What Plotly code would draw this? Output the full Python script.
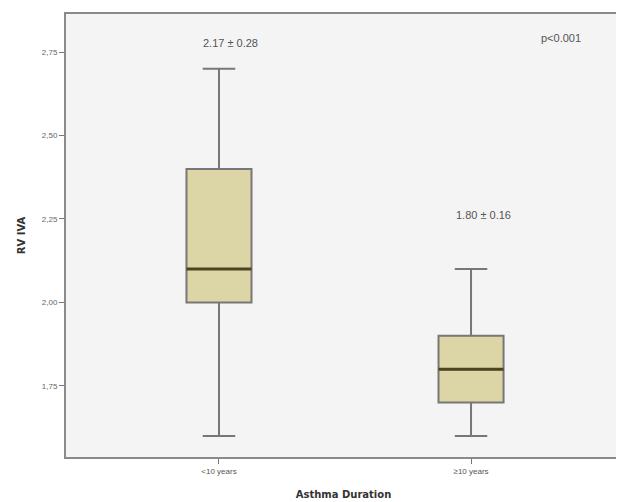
import plotly.graph_objects as go

categories = ["<10 years", "≥10 years"]
lower = [1.60, 1.60]
q1 = [2.00, 1.70]
median = [2.10, 1.80]
q3 = [2.40, 1.90]
upper = [2.70, 2.10]
labels = ["2.17 ± 0.28", "1.80 ± 0.16"]
y_ticks = [1.75, 2.00, 2.25, 2.50, 2.75]

BOX_W = 0.258
fig = go.Figure()
fig.add_trace(go.Box(
    x=categories, q1=q1, median=median, q3=q3,
    lowerfence=lower, upperfence=upper,
    width=BOX_W, whiskerwidth=0.5,
    fillcolor="#dcd5a6", line=dict(color="#777777", width=2),
    boxpoints=False, showlegend=False, hoverinfo="skip",
))

# darker median lines over the box
for i, m in enumerate(median):
    fig.add_shape(type="line", xref="x", yref="y",
                  x0=i - BOX_W / 2, x1=i + BOX_W / 2, y0=m, y1=m,
                  line=dict(color="#4f4321", width=3))

ann_font = dict(family="Liberation Sans, Arial", size=11, color="#555555")
fig.add_annotation(x=0.044, y=2.777, xref="x", yref="y", text=labels[0],
                   showarrow=False, font=ann_font)
fig.add_annotation(x=1.05, y=2.262, xref="x", yref="y", text=labels[1],
                   showarrow=False, font=ann_font)
fig.add_annotation(x=1.357, y=2.792, xref="x", yref="y", text="p<0.001",
                   showarrow=False, font=ann_font)

fig.update_layout(
    width=616, height=494,
    margin=dict(l=58, r=3, t=6, b=45),
    paper_bgcolor="white", plot_bgcolor="#f4f4f4",
    separators=",.",
    font=dict(family="Liberation Sans, Arial", size=8, color="#666666"),
    xaxis=dict(
        type="category", range=[-0.607, 1.595],
        showline=True, linecolor="#8a8a8a", linewidth=2, mirror=True,
        ticks="outside", ticklen=5, tickcolor="#777777",
        showgrid=False, zeroline=False,
        tickfont=dict(size=8, color="#555555"),
        title=dict(text="<b>Asthma Duration</b>", standoff=16,
                   font=dict(family="DejaVu Sans", size=10, color="#333333")),
    ),
    yaxis=dict(
        range=[1.537, 2.864],
        tickvals=y_ticks, tickformat=".2f",
        showline=True, linecolor="#8a8a8a", linewidth=2, mirror=False,
        ticks="outside", ticklen=5, tickcolor="#777777",
        showgrid=False, zeroline=False,
        tickfont=dict(size=8, color="#666666"),
        title=dict(text="<b>RV IVA</b>", standoff=14,
                   font=dict(family="DejaVu Sans", size=10, color="#333333")),
    ),
)

fig.write_html("out.html")
